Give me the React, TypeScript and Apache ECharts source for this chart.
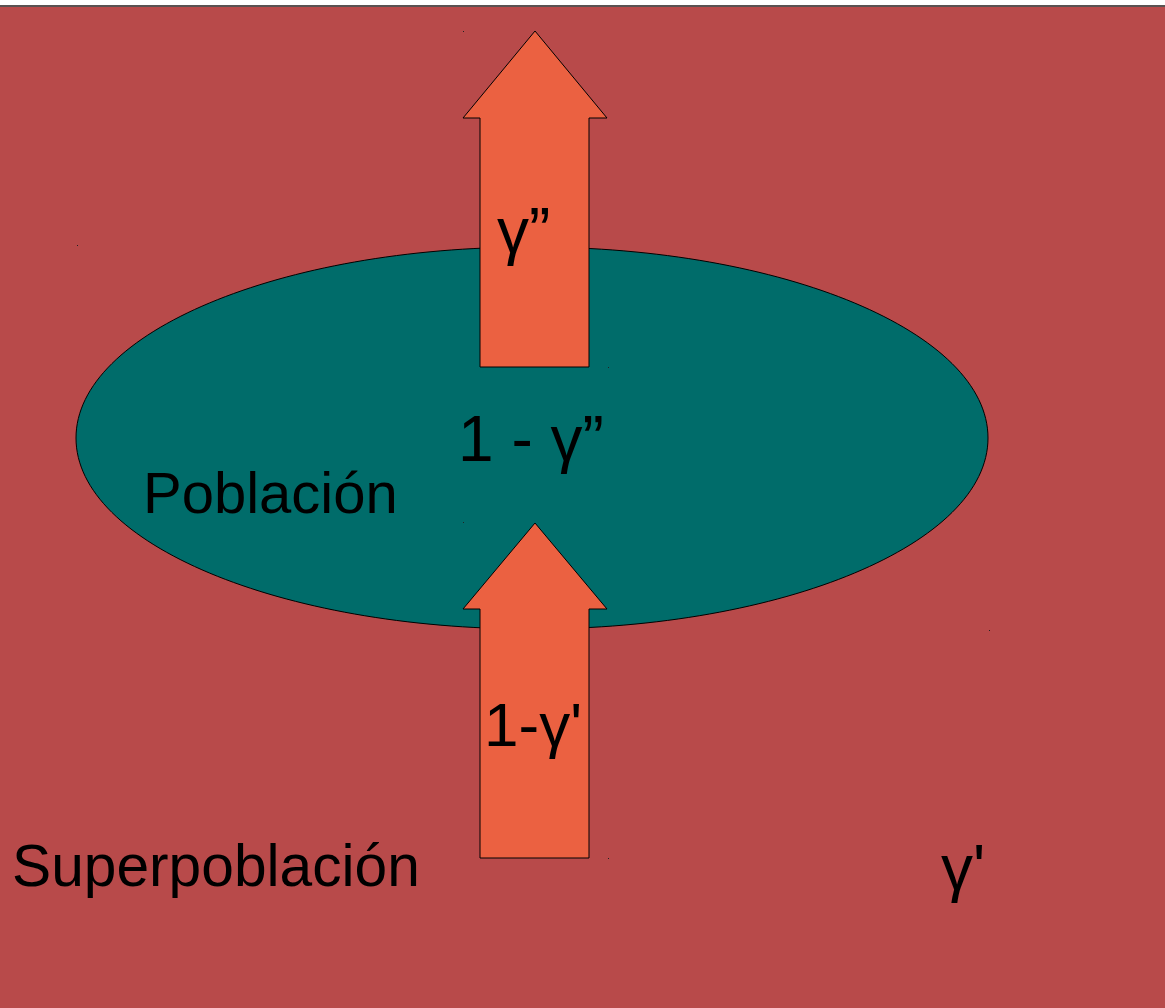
import React, { useEffect, useRef } from "react";
import * as echarts from "echarts";

// Labels of the diagram
const labels = ["γ”", "1 - γ”", "1-γ'", "γ'", "Población", "Superpoblación"];
const labelSizes = [64, 64, 62, 64, 58, 58.7];
const labelPos: [number, number][] = [
  [497, 231],
  [458, 439],
  [484, 724],
  [941, 868],
  [143, 492],
  [12, 865],
];

const upperArrow: [number, number][] = [
  [535, 31], [607, 118], [589, 118], [589, 367], [480, 367], [480, 118], [463, 118],
];
const lowerArrow: [number, number][] = [
  [535, 523], [607, 609], [589, 609], [589, 858], [480, 858], [480, 609], [463, 609],
];
const dots: [number, number][] = [
  [463, 31], [77, 245], [608, 367], [463, 522], [989, 630], [608, 858],
];

const BG = "#B84A4A";
const TEAL = "#006C6A";
const ORANGE = "#EB6141";
const FONT = '"Liberation Sans", Arial, sans-serif';

export default function App() {
  const ref = useRef<HTMLDivElement>(null);
  useEffect(() => {
    document.body.style.margin = "0";
    const chart = echarts.init(ref.current!, null, { renderer: "svg" });
    const elements: any[] = [
      { type: "rect", shape: { x: 0, y: 0, width: 1165, height: 1008 }, style: { fill: "#ffffff" }, z: 0 },
      { type: "rect", shape: { x: 0, y: 5, width: 1165, height: 2 }, style: { fill: "#5a5252" }, z: 1 },
      { type: "rect", shape: { x: 0, y: 7, width: 1165, height: 1001 }, style: { fill: BG }, z: 1 },
      {
        type: "ellipse",
        shape: { cx: 532, cy: 438, rx: 456, ry: 191 },
        style: { fill: TEAL, stroke: "#000", lineWidth: 1 },
        z: 2,
      },
      { type: "polygon", shape: { points: upperArrow }, style: { fill: ORANGE, stroke: "#000", lineWidth: 1 }, z: 3 },
      { type: "polygon", shape: { points: lowerArrow }, style: { fill: ORANGE, stroke: "#000", lineWidth: 1 }, z: 3 },
      ...dots.map(([x, y]) => ({
        type: "rect",
        shape: { x, y, width: 1, height: 1 },
        style: { fill: "#222" },
        z: 3,
      })),
      ...labels.map((t, i) => ({
        type: "text",
        x: labelPos[i][0],
        y: labelPos[i][1],
        style: {
          text: t,
          fill: "#000",
          fontSize: labelSizes[i],
          fontFamily: FONT,
          align: "left",
          verticalAlign: "middle",
        },
        z: 4,
      })),
    ];
    chart.setOption({
      animation: false,
      graphic: { elements },
    });
    return () => chart.dispose();
  }, []);
  return <div ref={ref} style={{ width: 1165, height: 1008 }} />;
}
